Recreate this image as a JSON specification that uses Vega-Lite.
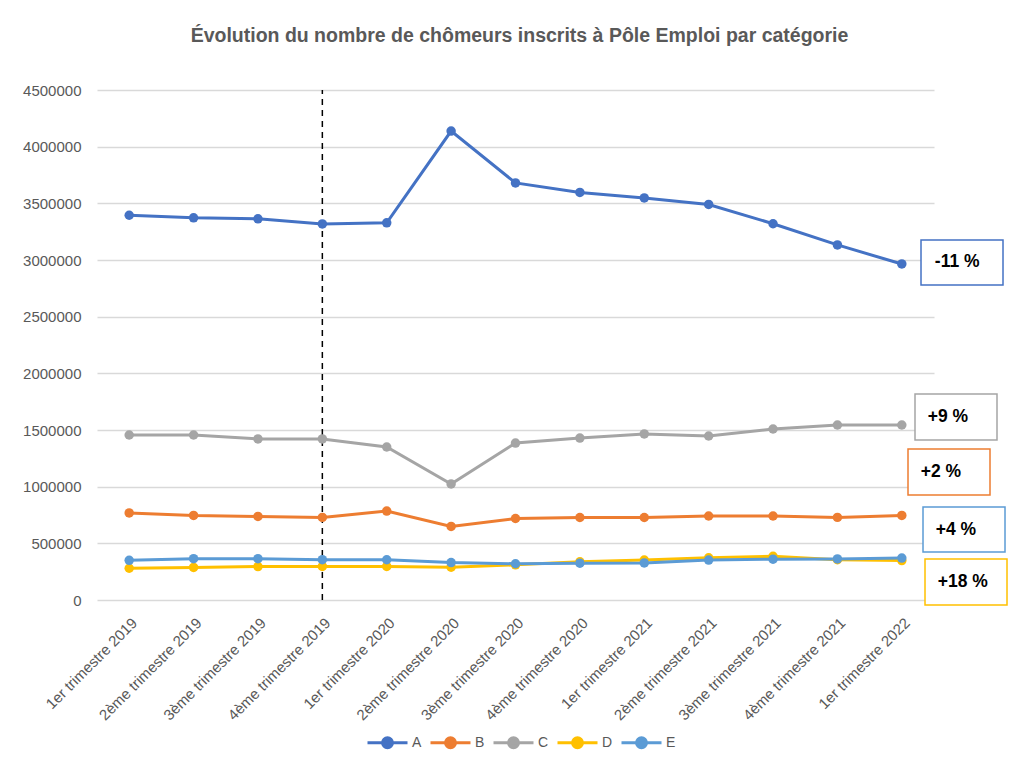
{
  "$schema": "https://vega.github.io/schema/vega-lite/v6.json",
  "width": 837,
  "height": 510,
  "autosize": {"type": "none"},
  "padding": {"left": 97, "top": 90, "right": 81, "bottom": 162},
  "background": "white",
  "title": {"text": "Évolution du nombre de chômeurs inscrits à Pôle Emploi par catégorie", "font": "Liberation Sans", "fontSize": 19.5, "fontWeight": "bold", "color": "#595959", "offset": 37, "anchor": "middle", "dx": 4},
  "datasets": {
    "series": [
      {"q": "1er trimestre 2019", "cat": "A", "v": 3395000},
      {"q": "2ème trimestre 2019", "cat": "A", "v": 3372000},
      {"q": "3ème trimestre 2019", "cat": "A", "v": 3363000},
      {"q": "4ème trimestre 2019", "cat": "A", "v": 3318000},
      {"q": "1er trimestre 2020", "cat": "A", "v": 3328000},
      {"q": "2ème trimestre 2020", "cat": "A", "v": 4138000},
      {"q": "3ème trimestre 2020", "cat": "A", "v": 3680000},
      {"q": "4ème trimestre 2020", "cat": "A", "v": 3596000},
      {"q": "1er trimestre 2021", "cat": "A", "v": 3548000},
      {"q": "2ème trimestre 2021", "cat": "A", "v": 3490000},
      {"q": "3ème trimestre 2021", "cat": "A", "v": 3320000},
      {"q": "4ème trimestre 2021", "cat": "A", "v": 3133000},
      {"q": "1er trimestre 2022", "cat": "A", "v": 2965000},
      {"q": "1er trimestre 2019", "cat": "B", "v": 768000},
      {"q": "2ème trimestre 2019", "cat": "B", "v": 746000},
      {"q": "3ème trimestre 2019", "cat": "B", "v": 737000},
      {"q": "4ème trimestre 2019", "cat": "B", "v": 729000},
      {"q": "1er trimestre 2020", "cat": "B", "v": 785000},
      {"q": "2ème trimestre 2020", "cat": "B", "v": 649000},
      {"q": "3ème trimestre 2020", "cat": "B", "v": 719000},
      {"q": "4ème trimestre 2020", "cat": "B", "v": 728000},
      {"q": "1er trimestre 2021", "cat": "B", "v": 728000},
      {"q": "2ème trimestre 2021", "cat": "B", "v": 741000},
      {"q": "3ème trimestre 2021", "cat": "B", "v": 741000},
      {"q": "4ème trimestre 2021", "cat": "B", "v": 729000},
      {"q": "1er trimestre 2022", "cat": "B", "v": 746000},
      {"q": "1er trimestre 2019", "cat": "C", "v": 1456000},
      {"q": "2ème trimestre 2019", "cat": "C", "v": 1456000},
      {"q": "3ème trimestre 2019", "cat": "C", "v": 1421000},
      {"q": "4ème trimestre 2019", "cat": "C", "v": 1421000},
      {"q": "1er trimestre 2020", "cat": "C", "v": 1350000},
      {"q": "2ème trimestre 2020", "cat": "C", "v": 1024000},
      {"q": "3ème trimestre 2020", "cat": "C", "v": 1385000},
      {"q": "4ème trimestre 2020", "cat": "C", "v": 1429000},
      {"q": "1er trimestre 2021", "cat": "C", "v": 1465000},
      {"q": "2ème trimestre 2021", "cat": "C", "v": 1447000},
      {"q": "3ème trimestre 2021", "cat": "C", "v": 1509000},
      {"q": "4ème trimestre 2021", "cat": "C", "v": 1544000},
      {"q": "1er trimestre 2022", "cat": "C", "v": 1544000},
      {"q": "1er trimestre 2019", "cat": "D", "v": 280000},
      {"q": "2ème trimestre 2019", "cat": "D", "v": 287000},
      {"q": "3ème trimestre 2019", "cat": "D", "v": 295000},
      {"q": "4ème trimestre 2019", "cat": "D", "v": 296000},
      {"q": "1er trimestre 2020", "cat": "D", "v": 296000},
      {"q": "2ème trimestre 2020", "cat": "D", "v": 290000},
      {"q": "3ème trimestre 2020", "cat": "D", "v": 310000},
      {"q": "4ème trimestre 2020", "cat": "D", "v": 337000},
      {"q": "1er trimestre 2021", "cat": "D", "v": 352000},
      {"q": "2ème trimestre 2021", "cat": "D", "v": 372000},
      {"q": "3ème trimestre 2021", "cat": "D", "v": 385000},
      {"q": "4ème trimestre 2021", "cat": "D", "v": 355000},
      {"q": "1er trimestre 2022", "cat": "D", "v": 348000},
      {"q": "1er trimestre 2019", "cat": "E", "v": 350000},
      {"q": "2ème trimestre 2019", "cat": "E", "v": 365000},
      {"q": "3ème trimestre 2019", "cat": "E", "v": 365000},
      {"q": "4ème trimestre 2019", "cat": "E", "v": 356000},
      {"q": "1er trimestre 2020", "cat": "E", "v": 355000},
      {"q": "2ème trimestre 2020", "cat": "E", "v": 330000},
      {"q": "3ème trimestre 2020", "cat": "E", "v": 320000},
      {"q": "4ème trimestre 2020", "cat": "E", "v": 325000},
      {"q": "1er trimestre 2021", "cat": "E", "v": 327000},
      {"q": "2ème trimestre 2021", "cat": "E", "v": 352000},
      {"q": "3ème trimestre 2021", "cat": "E", "v": 360000},
      {"q": "4ème trimestre 2021", "cat": "E", "v": 362000},
      {"q": "1er trimestre 2022", "cat": "E", "v": 370000}
    ],
    "notes": [
      {"q": "1er trimestre 2022", "cat": "A", "label": "-11 %", "v": 2978000},
      {"q": "1er trimestre 2022", "cat": "C", "label": "+9 %", "v": 1615000},
      {"q": "1er trimestre 2022", "cat": "B", "label": "+2 %", "v": 1129000},
      {"q": "1er trimestre 2022", "cat": "E", "label": "+4 %", "v": 622000},
      {"q": "1er trimestre 2022", "cat": "D", "label": "+18 %", "v": 159000}
    ],
    "marker": [
      {"q": "4ème trimestre 2019", "v": 0, "v2": 4500000}
    ]
  },
  "encoding": {
    "x": {
      "field": "q",
      "type": "ordinal",
      "sort": null,
      "scale": {
        "type": "point",
        "padding": 0.5,
        "domain": ["1er trimestre 2019", "2ème trimestre 2019", "3ème trimestre 2019", "4ème trimestre 2019", "1er trimestre 2020", "2ème trimestre 2020", "3ème trimestre 2020", "4ème trimestre 2020", "1er trimestre 2021", "2ème trimestre 2021", "3ème trimestre 2021", "4ème trimestre 2021", "1er trimestre 2022"]
      },
      "axis": {
        "title": null,
        "labelAngle": -45,
        "labelFont": "Liberation Sans",
        "labelFontSize": 15,
        "labelColor": "#595959",
        "domain": false,
        "ticks": false,
        "grid": false,
        "labelPadding": 15
      }
    },
    "y": {
      "field": "v",
      "type": "quantitative",
      "scale": {"domain": [0, 4500000], "nice": false},
      "axis": {
        "title": null,
        "values": [0, 500000, 1000000, 1500000, 2000000, 2500000, 3000000, 3500000, 4000000, 4500000],
        "format": "d",
        "labelFont": "Liberation Sans",
        "labelFontSize": 15,
        "labelColor": "#595959",
        "domain": false,
        "ticks": false,
        "grid": true,
        "gridColor": "#D9D9D9",
        "gridWidth": 1.3,
        "labelPadding": 16
      }
    }
  },
  "layer": [
    {
      "data": {"name": "marker"},
      "mark": {"type": "rule", "color": "black", "strokeWidth": 1.5, "strokeDash": [6, 5]},
      "encoding": {"y2": {"field": "v2"}}
    },
    {
      "data": {"name": "series"},
      "mark": {"type": "line", "strokeWidth": 3, "point": {"filled": true, "size": 90, "opacity": 1}},
      "encoding": {
        "color": {
          "field": "cat",
          "type": "nominal",
          "scale": {"domain": ["A", "B", "C", "D", "E"], "range": ["#4472C4", "#ED7D31", "#A5A5A5", "#FFC000", "#5B9BD5"]},
          "legend": {
            "title": null,
            "orient": "none",
            "direction": "horizontal",
            "columns": 5,
            "legendX": 269,
            "legendY": 631,
            "labelFont": "Liberation Sans",
            "labelFontSize": 14,
            "labelColor": "#595959",
            "labelOffset": 3,
            "columnPadding": 2,
            "symbolType": "M-1,0H1M0.25,0A0.25,0.25,0,1,1,-0.25,0A0.25,0.25,0,1,1,0.25,0Z",
            "symbolSize": 1600,
            "symbolStrokeWidth": 3,
            "encode": {"symbols": {"update": {"fill": {"scale": "color", "field": "value"}, "fillOpacity": {"value": 1}}}}
          }
        }
      }
    },
    {
      "data": {"name": "notes"},
      "mark": {"type": "point", "filled": true, "fill": "white", "size": 10000, "strokeWidth": 1.5, "opacity": 1, "fillOpacity": 1, "strokeOpacity": 1},
      "encoding": {
        "shape": {
          "field": "label",
          "type": "nominal",
          "scale": {
            "domain": ["-11 %", "+9 %", "+2 %", "+4 %", "+18 %"],
            "range": [
              "M0.384,-0.45H2.024V0.45H0.384Z",
              "M0.264,-0.46H1.904V0.46H0.264Z",
              "M0.124,-0.46H1.764V0.46H0.124Z",
              "M0.424,-0.45H2.064V0.45H0.424Z",
              "M0.464,-0.46H2.104V0.46H0.464Z"
            ]
          },
          "legend": null
        },
        "stroke": {
          "field": "cat",
          "type": "nominal",
          "scale": {"domain": ["A", "B", "C", "D", "E"], "range": ["#4472C4", "#ED7D31", "#A5A5A5", "#FFC000", "#5B9BD5"]},
          "legend": null
        }
      }
    },
    {
      "data": {"name": "notes"},
      "transform": [{"filter": "datum.label === '-11 %'"}],
      "mark": {"type": "text", "align": "left", "baseline": "middle", "dx": 33, "font": "Liberation Sans", "fontSize": 17.5, "fontWeight": "bold", "color": "black"},
      "encoding": {"text": {"field": "label"}}
    },
    {
      "data": {"name": "notes"},
      "transform": [{"filter": "datum.label === '+9 %'"}],
      "mark": {"type": "text", "align": "left", "baseline": "middle", "dx": 26, "font": "Liberation Sans", "fontSize": 17.5, "fontWeight": "bold", "color": "black"},
      "encoding": {"text": {"field": "label"}}
    },
    {
      "data": {"name": "notes"},
      "transform": [{"filter": "datum.label === '+2 %'"}],
      "mark": {"type": "text", "align": "left", "baseline": "middle", "dx": 19, "font": "Liberation Sans", "fontSize": 17.5, "fontWeight": "bold", "color": "black"},
      "encoding": {"text": {"field": "label"}}
    },
    {
      "data": {"name": "notes"},
      "transform": [{"filter": "datum.label === '+4 %'"}],
      "mark": {"type": "text", "align": "left", "baseline": "middle", "dx": 34, "font": "Liberation Sans", "fontSize": 17.5, "fontWeight": "bold", "color": "black"},
      "encoding": {"text": {"field": "label"}}
    },
    {
      "data": {"name": "notes"},
      "transform": [{"filter": "datum.label === '+18 %'"}],
      "mark": {"type": "text", "align": "left", "baseline": "middle", "dx": 36, "font": "Liberation Sans", "fontSize": 17.5, "fontWeight": "bold", "color": "black"},
      "encoding": {"text": {"field": "label"}}
    }
  ],
  "config": {
    "view": {"stroke": null}
  }
}
